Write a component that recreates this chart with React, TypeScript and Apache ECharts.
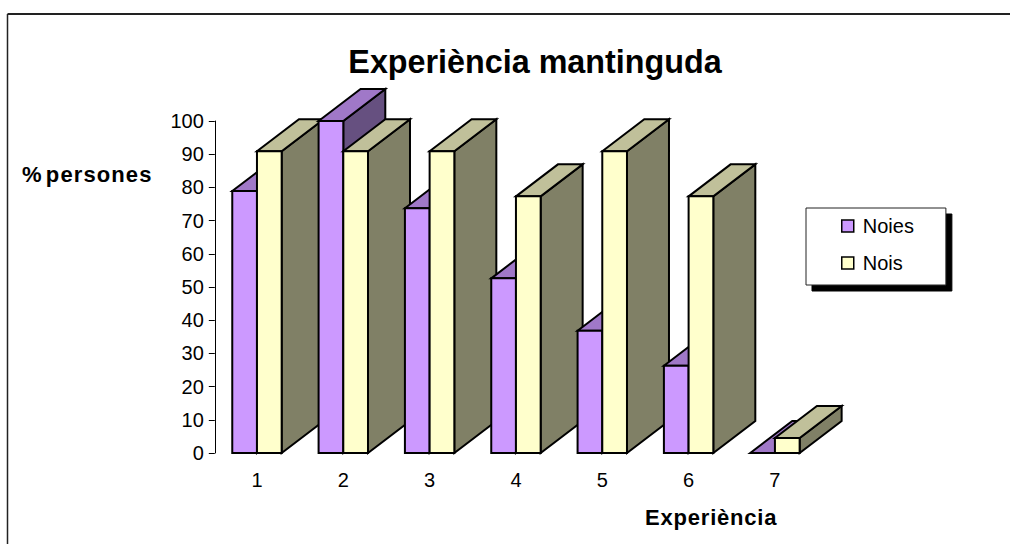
import React, { useEffect, useRef } from "react";
import * as echarts from "echarts";

const categories = ["1", "2", "3", "4", "5", "6", "7"];
const noies = [78.9, 100, 73.7, 52.6, 36.8, 26.3, 0];
const nois = [90.9, 90.9, 90.9, 77.3, 90.9, 77.3, 4.5];
const FONT = "Liberation Sans, Arial, sans-serif";

const DX = 42;
const DY = 32;
const BAR_W = 24.7;

function bar3d(seriesIdx: number, front: string, top: string, side: string) {
  return (params: any, api: any) => {
    const cat = api.value(0);
    const val = api.value(1);
    const [cx, y] = api.coord([cat, val]);
    const [, y0] = api.coord([cat, 0]);
    const x0 = seriesIdx === 0 ? cx - BAR_W : cx;
    const x1 = x0 + BAR_W;
    const z2 = cat * 10 + seriesIdx * 3;
    const style = (fill: string) => ({ fill, stroke: "#000", lineWidth: 2, lineJoin: "miter" });
    return {
      type: "group",
      children: [
        { type: "polygon", z2: z2, shape: { points: [[x1, y], [x1 + DX, y - DY], [x1 + DX, y0 - DY], [x1, y0]] }, style: style(side) },
        { type: "polygon", z2: z2 + 1, shape: { points: [[x0, y], [x0 + DX, y - DY], [x1 + DX, y - DY], [x1, y]] }, style: style(top) },
        { type: "rect", z2: z2 + 2, shape: { x: x0, y, width: BAR_W, height: y0 - y }, style: style(front) },
      ],
    };
  };
}

export default function App() {
  const ref = useRef<HTMLDivElement>(null);
  useEffect(() => {
    const chart = echarts.init(ref.current!, null, { renderer: "svg" });
    chart.setOption({
      animation: false,
      backgroundColor: "#fff",
      textStyle: { fontFamily: FONT },
      title: {
        text: "Experiència mantinguda",
        left: 530,
        top: 41,
        textAlign: "center",
        textStyle: { fontFamily: FONT, fontSize: 32.3, fontWeight: "bold", color: "#000" },
      },
      grid: { left: 213.8, top: 121, width: 604.3, height: 332 },
      legend: {
        orient: "vertical",
        left: 806,
        top: 208,
        padding: [8, 32, 12, 35],
        itemGap: 17,
        itemWidth: 12,
        itemHeight: 12,
        icon: "rect",
        backgroundColor: "#fff",
        borderColor: "#222",
        borderWidth: 1,
        shadowColor: "#000",
        shadowBlur: 0,
        shadowOffsetX: 6,
        shadowOffsetY: 6,
        textStyle: { fontFamily: FONT, fontSize: 20, color: "#000", padding: [0, 0, 0, 4] },
        data: [
          { name: "Noies", itemStyle: { color: "#CC99FF", borderColor: "#000", borderWidth: 1.5 } },
          { name: "Nois", itemStyle: { color: "#FFFFCC", borderColor: "#000", borderWidth: 1.5 } },
        ],
      },
      xAxis: {
        type: "category",
        data: categories,
        axisLine: { show: false },
        axisTick: { show: false },
        axisLabel: { fontSize: 20, color: "#000", margin: 17, fontFamily: FONT },
      },
      yAxis: {
        type: "value",
        min: 0,
        max: 100,
        interval: 10,
        offset: -1,
        splitLine: { show: false },
        axisLine: { show: true, lineStyle: { color: "#000", width: 1 } },
        axisTick: { show: true, length: 6, lineStyle: { color: "#000", width: 1 } },
        axisLabel: { fontSize: 20, color: "#000", margin: 11, fontFamily: FONT },
      },
      graphic: [
        { type: "line", shape: { x1: 7.5, y1: 14, x2: 1010, y2: 14 }, style: { stroke: "#222", lineWidth: 2 } },
        { type: "line", shape: { x1: 7.5, y1: 14, x2: 7.5, y2: 544 }, style: { stroke: "#222", lineWidth: 1.5 } },
        { type: "text", x: 22, y: 163, style: { text: "% persones", font: `bold 22px ${FONT}`, fill: "#000" } },
        { type: "text", x: 645, y: 506, style: { text: "Experiència", font: `bold 22px ${FONT}`, fill: "#000" } },
      ],
      series: [
        {
          name: "Noies",
          type: "custom",
          itemStyle: { color: "#CC99FF" },
          renderItem: bar3d(0, "#CC99FF", "#A078C8", "#665080"),
          encode: { x: 0, y: 1 },
          data: noies.map((v, i) => [i, v]),
        },
        {
          name: "Nois",
          type: "custom",
          itemStyle: { color: "#FFFFCC" },
          renderItem: bar3d(1, "#FFFFCC", "#C0C09A", "#808066"),
          encode: { x: 0, y: 1 },
          data: nois.map((v, i) => [i, v]),
        },
      ],
    });
    // The reference's two axis captions are letter-spaced; ECharts has no option for it.
    chart.getDom().querySelectorAll("text").forEach((t) => {
      if (t.textContent === "% persones") {
        t.style.letterSpacing = "1.1px";
        t.style.wordSpacing = "-4px";
      } else if (t.textContent === "Experiència") {
        t.style.letterSpacing = "0.8px";
      }
    });
    return () => chart.dispose();
  }, []);
  return <div ref={ref} style={{ position: "fixed", left: 0, top: 0, width: 1010, height: 544 }} />;
}
